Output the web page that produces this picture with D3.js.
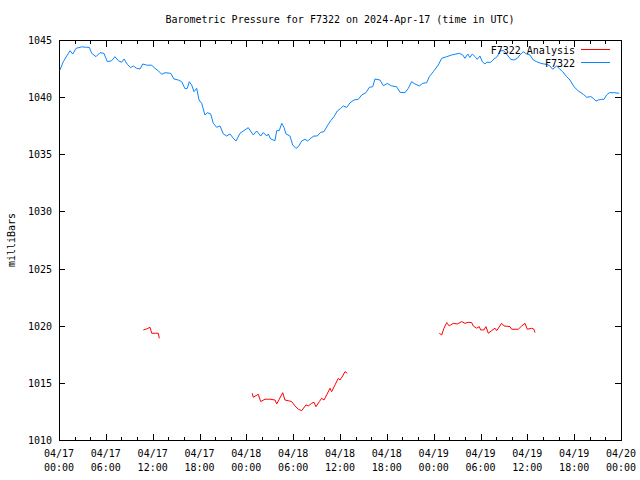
<!DOCTYPE html>
<html>
<head>
<meta charset="utf-8">
<script src="https://cdn.jsdelivr.net/npm/d3@7"></script>
<style>
  html, body { margin: 0; padding: 0; background: #fff; }
  svg { display: block; }
  text { font-family: "DejaVu Sans Mono", "Liberation Mono", monospace; font-size: 10px; fill: #000; }
</style>
</head>
<body>
<svg id="chart" width="640" height="480"></svg>
<script>
// ---- data (hours since 2024-04-17 00:00 UTC) ----
const titleText = "Barometric Pressure for F7322 on 2024-Apr-17 (time in UTC)";
const yLabel = "milliBars";
const seriesNames = ["F7322 Analysis", "F7322"];
const yTicks = [1010, 1015, 1020, 1025, 1030, 1035, 1040, 1045];

const obsHours = [0.13,0.55,0.99,1.41,1.76,2.18,2.91,3.55,3.88,4.19,4.74,5.25,5.76,6.19,6.75,7.17,7.60,8.03,8.33,8.75,9.19,9.52,9.95,10.38,10.72,11.24,11.88,12.30,12.72,13.16,13.58,14.31,14.73,15.28,15.72,16.14,16.44,16.69,17.00,17.29,17.64,17.94,18.28,18.70,19.00,19.43,19.77,20.20,20.63,21.05,21.48,21.91,22.33,22.68,23.19,23.61,24.25,24.89,25.33,25.84,26.17,26.61,26.81,27.12,27.67,27.89,28.22,28.53,28.82,29.08,29.59,29.94,30.36,30.66,31.09,31.51,31.86,32.24,32.67,33.09,33.53,33.95,34.37,34.81,35.23,35.65,36.09,36.42,36.86,37.28,37.79,38.34,38.78,39.33,39.75,40.19,40.48,41.12,41.55,42.06,42.62,43.26,43.68,44.33,44.75,45.18,45.61,46.16,46.59,47.11,47.44,47.95,48.59,49.03,49.67,50.31,50.73,51.28,51.72,52.01,52.36,52.65,52.95,53.30,53.59,53.93,54.23,54.57,54.79,55.30,55.73,56.15,56.49,57.01,57.43,57.87,58.29,58.71,59.06,59.48,59.92,60.34,60.76,61.20,61.71,62.13,62.48,62.90,63.25,63.76,64.18,64.53,65.04,65.47,65.98,66.53,67.17,67.61,68.12,68.45,68.79,69.09,69.52,69.82,70.16,70.50,71.01,71.78];
const obsPressure = [1042.38,1043.1,1043.6,1044.06,1043.77,1044.27,1044.4,1044.36,1044.36,1043.83,1043.54,1043.89,1043.83,1043.1,1043.19,1043.54,1043.19,1043.05,1043.34,1042.87,1042.58,1042.73,1042.52,1042.46,1042.9,1042.8,1042.79,1042.52,1042.31,1042.0,1042.14,1042.08,1041.59,1041.5,1041.35,1040.74,1040.77,1041.35,1041.06,1040.48,1040.77,1039.75,1039.46,1038.44,1038.64,1038.53,1037.71,1037.36,1037.48,1036.78,1036.6,1036.78,1036.4,1036.16,1036.84,1037.04,1037.33,1036.69,1037.04,1036.6,1036.9,1036.6,1036.78,1036.34,1036.19,1037.07,1037.07,1037.71,1037.36,1036.78,1036.6,1035.81,1035.52,1035.66,1036.16,1036.31,1036.16,1036.4,1036.6,1036.6,1036.92,1036.98,1037.48,1037.94,1038.29,1038.79,1039.02,1039.23,1039.1,1039.51,1039.75,1039.81,1040.19,1040.39,1040.86,1040.91,1041.59,1041.5,1041.0,1041.2,1040.98,1040.91,1040.42,1040.39,1040.77,1041.35,1041.15,1040.98,1041.21,1041.26,1041.79,1042.23,1042.81,1043.4,1043.54,1043.69,1043.75,1043.84,1043.69,1043.4,1043.77,1043.48,1043.77,1043.54,1043.31,1043.6,1043.1,1042.9,1043.05,1043.05,1043.34,1043.54,1044.06,1044.06,1043.69,1043.31,1043.25,1043.4,1043.69,1043.98,1043.77,1043.69,1043.25,1043.1,1042.96,1042.9,1042.87,1042.73,1042.44,1042.73,1042.44,1042.23,1041.79,1041.5,1040.91,1040.54,1040.25,1039.99,1040.05,1039.9,1039.66,1039.75,1039.81,1039.81,1040.19,1040.39,1040.39,1040.34];

// null marks a gap in the analysis series
const anaHours = [10.80,11.24,11.66,11.88,12.39,12.72,12.85,null,24.76,24.89,25.53,25.84,26.39,27.03,27.67,27.89,28.22,28.66,28.95,29.37,29.81,30.23,30.66,31.09,31.64,31.94,32.37,32.67,32.92,33.35,33.65,33.95,34.29,34.72,34.93,35.36,35.78,36.00,36.34,36.64,36.93,null,48.72,49.03,49.32,49.67,50.00,50.51,51.03,51.59,52.01,52.43,52.87,53.07,53.51,53.84,54.02,54.44,54.70,55.00,55.43,55.86,56.07,56.71,57.01,57.78,57.99,58.84,59.28,59.70,59.99,60.56,60.85,60.98];
const anaPressure = [1019.63,1019.72,1019.86,1019.34,1019.34,1019.34,1018.90,null,1014.09,1013.74,1014.0,1013.36,1013.57,1013.57,1013.5,1013.15,1013.57,1014.14,1013.5,1013.44,1013.36,1012.98,1012.69,1012.57,1013.07,1012.98,1013.21,1013.3,1012.92,1013.36,1013.65,1013.5,1013.94,1014.53,1014.23,1014.82,1015.4,1015.25,1015.6,1015.98,1015.84,null,1019.34,1019.19,1019.78,1020.27,1019.98,1020.21,1020.15,1020.36,1020.21,1020.3,1020.27,1019.98,1019.78,1019.92,1019.63,1019.63,1019.92,1019.34,1019.57,1019.78,1019.57,1020.21,1019.98,1019.92,1019.69,1019.69,1019.98,1020.21,1019.69,1019.78,1019.69,1019.4];

// ---- layout ----
const L = 59, R = 621, T = 40, B = 440;
const base = Date.UTC(2024, 3, 17, 0, 0, 0);
const toDate = h => new Date(base + h * 3600e3);

const x = d3.scaleUtc().domain([toDate(0), toDate(72)]).range([L, R]);
const y = d3.scaleLinear().domain([1010, 1045]).range([B, T]);

const svg = d3.select("#chart");
const colors = { ana: "#ff0000", obs: "#0a84ff" };

// frame
svg.append("rect").attr("x", L + 0.5).attr("y", T + 0.5)
  .attr("width", R - L).attr("height", B - T)
  .attr("fill", "none").attr("stroke", "#000").attr("stroke-width", 1);

// x ticks
const majorX = d3.utcHour.every(6).range(toDate(0), toDate(72.01));
const minorX = d3.utcHour.every(2).range(toDate(0), toDate(72.01));
const g = svg.append("g").attr("stroke", "#000").attr("stroke-width", 1).attr("shape-rendering", "crispEdges");
minorX.forEach(d => {
  const px = Math.round(x(d)) + 0.5;
  const isMajor = d.getUTCHours() % 6 === 0;
  const len = isMajor ? 6 : 3;
  g.append("line").attr("x1", px).attr("x2", px).attr("y1", B).attr("y2", B - len);
  g.append("line").attr("x1", px).attr("x2", px).attr("y1", T + 1).attr("y2", T + 1 + len);
});
const fmtDay = d3.utcFormat("%m/%d"), fmtHour = d3.utcFormat("%H:%M");
majorX.forEach(d => {
  const px = x(d);
  const t = svg.append("text").attr("x", px).attr("text-anchor", "middle");
  t.append("tspan").attr("x", px).attr("y", 457).text(fmtDay(d));
  t.append("tspan").attr("x", px).attr("y", 471).text(fmtHour(d));
});

// y ticks
yTicks.forEach(v => {
  const py = Math.round(y(v)) + 0.5;
  g.append("line").attr("x1", L).attr("x2", L + 6).attr("y1", py).attr("y2", py);
  g.append("line").attr("x1", R).attr("x2", R - 6).attr("y1", py).attr("y2", py);
  svg.append("text").attr("x", 52).attr("y", y(v) + 4).attr("text-anchor", "end").text(v);
});

// y label
svg.append("text").attr("transform", "translate(15,240) rotate(-90)")
  .attr("text-anchor", "middle").text(yLabel);

// title
svg.append("text").attr("x", 340).attr("y", 23).attr("text-anchor", "middle").text(titleText);

// lines
const obsData = obsHours.map((h, i) => ({ t: toDate(h), v: obsPressure[i] }));
const anaData = anaHours.map((h, i) => ({ t: h == null ? null : toDate(h), v: anaPressure[i] }));
const line = d3.line().defined(d => d.v != null && d.t != null).x(d => x(d.t)).y(d => y(d.v));

svg.append("path").datum(anaData).attr("d", line)
  .attr("fill", "none").attr("stroke", colors.ana).attr("stroke-width", 1);
svg.append("path").datum(obsData).attr("d", line)
  .attr("fill", "none").attr("stroke", colors.obs).attr("stroke-width", 1);

// legend
const legend = [
  { name: seriesNames[0], color: colors.ana, yy: 49.5 },
  { name: seriesNames[1], color: colors.obs, yy: 62.5 }
];
legend.forEach(l => {
  svg.append("text").attr("x", 575).attr("y", l.yy + 4).attr("text-anchor", "end").text(l.name);
  svg.append("line").attr("x1", 581).attr("x2", 610).attr("y1", l.yy).attr("y2", l.yy)
    .attr("stroke", l.color).attr("stroke-width", 1);
});
</script>
</body>
</html>
